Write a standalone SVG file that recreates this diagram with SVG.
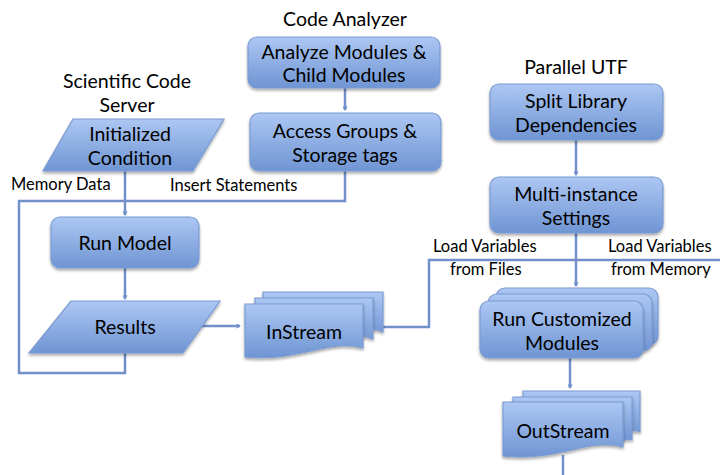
<svg xmlns="http://www.w3.org/2000/svg" width="720" height="475" viewBox="0 0 720 475">
<style>
.t{font-family:Lato,"Liberation Sans",sans-serif;font-size:19.5px;fill:#000;text-anchor:middle}
.h{font-family:Lato,"Liberation Sans",sans-serif;font-size:19.5px;fill:#000;text-anchor:middle}
.l{font-family:Lato,"Liberation Sans",sans-serif;font-size:16.5px;fill:#000}
.n{fill:url(#g);stroke:#7a9bd3;stroke-width:1.2;filter:url(#sh)}
.c{fill:none;stroke:#7290cb;stroke-width:2.5}
</style>
<defs>
<linearGradient id="g" x1="0" y1="0" x2="0" y2="1">
<stop offset="0" stop-color="#adc7f3"/>
<stop offset="1" stop-color="#6f95d3"/>
</linearGradient>
<filter id="sh" x="-10%" y="-10%" width="120%" height="130%">
<feGaussianBlur in="SourceAlpha" stdDeviation="1.5"/>
<feOffset dx="0" dy="2" result="b"/>
<feComponentTransfer><feFuncA type="linear" slope="0.35"/></feComponentTransfer>
<feMerge><feMergeNode/><feMergeNode in="SourceGraphic"/></feMerge>
</filter>
<marker id="a" viewBox="0 0 12 12" refX="10" refY="6" markerWidth="5" markerHeight="5" orient="auto" markerUnits="userSpaceOnUse">
<path d="M1,1 L10,6 L1,11" fill="none" stroke="#7290cb" stroke-width="2.5"/>
</marker>
</defs>
<rect width="720" height="475" fill="#fff"/>

<g id="titles">
<text class="h" x="345" y="26">Code Analyzer</text>
<text class="h" x="127" y="88">Scientific Code</text>
<text class="h" x="127" y="112">Server</text>
<text class="h" x="576" y="74">Parallel UTF</text>
</g>

<g id="connectors">
<line class="c" x1="345" y1="88" x2="345" y2="110" marker-end="url(#a)"/>
<path class="c" d="M345,171 V201 H125"/>
<path class="c" d="M125,171 V215" marker-end="url(#a)"/>
<path class="c" d="M125,353 V373 H19 V201 H125"/>
<line class="c" x1="125" y1="268" x2="125" y2="299" marker-end="url(#a)"/>
<line class="c" x1="200" y1="326" x2="240" y2="326" marker-end="url(#a)"/>
<path class="c" d="M383,327 H429 V260 H720"/>
<line class="c" x1="576" y1="140" x2="576" y2="175" marker-end="url(#a)"/>
<line class="c" x1="576" y1="233" x2="576" y2="286" marker-end="url(#a)"/>
<line class="c" x1="570" y1="358" x2="570" y2="388" marker-end="url(#a)"/>
<line class="c" x1="563" y1="455" x2="563" y2="475"/>
<text class="l" x="11" y="190">Memory Data</text>
<text class="l" x="170" y="191">Insert Statements</text>
<text class="l" x="433" y="252">Load Variables</text>
<text class="l" x="450" y="275">from Files</text>
<text class="l" x="608" y="252">Load Variables</text>
<text class="l" x="611" y="275">from Memory</text>
</g>

<g id="analyze">
<rect class="n" x="248" y="37" width="192" height="51" rx="9"/>
<text class="t" x="344" y="59">Analyze Modules &amp;</text>
<text class="t" x="344" y="82">Child Modules</text>
</g>

<g id="access">
<rect class="n" x="250" y="113" width="191" height="58" rx="9"/>
<text class="t" x="345" y="138">Access Groups &amp;</text>
<text class="t" x="345" y="162">Storage tags</text>
</g>

<g id="initialized">
<polygon class="n" points="73,119 224,119 193,171 43,171"/>
<text class="t" x="130" y="141">Initialized</text>
<text class="t" x="130" y="165">Condition</text>
</g>

<g id="runmodel">
<rect class="n" x="51" y="217" width="148" height="51" rx="9"/>
<text class="t" x="125" y="250">Run Model</text>
</g>

<g id="results">
<polygon class="n" points="71,301 220,301 183,353 29,353"/>
<text class="t" x="125" y="334">Results</text>
</g>

<g id="instream">
<path class="n" d="M263,292 H383 V332 C370,326 355,332 345,336 L263,336 Z"/>
<path class="n" d="M255,298 H373 V339 C360,333 345,339 335,343 L255,343 Z"/>
<path class="n" d="M245,304 H363 V348 C330,338 300,362 245,357 Z"/>
<text class="t" x="304" y="339">InStream</text>
</g>

<g id="split">
<rect class="n" x="490" y="84" width="173" height="56" rx="9"/>
<text class="t" x="576" y="108">Split Library</text>
<text class="t" x="576" y="132">Dependencies</text>
</g>

<g id="multi">
<rect class="n" x="490" y="177" width="173" height="56" rx="9"/>
<text class="t" x="576" y="201">Multi-instance</text>
<text class="t" x="576" y="225">Settings</text>
</g>

<g id="runcustom">
<rect class="n" x="496" y="288" width="162" height="57" rx="9"/>
<rect class="n" x="488" y="294" width="164" height="57" rx="9"/>
<rect class="n" x="480" y="301" width="163" height="57" rx="9"/>
<text class="t" x="562" y="326">Run Customized</text>
<text class="t" x="562" y="350">Modules</text>
</g>

<g id="outstream">
<path class="n" d="M523,391 H640 V432 C630,428 625,434 623,436 L523,436 Z"/>
<path class="n" d="M513,397 H632 V440 C628,438 625,440 623,441 L513,441 Z"/>
<path class="n" d="M503,402 H623 V447 C590,437 558,462 503,456 Z"/>
<text class="t" x="563" y="438">OutStream</text>
</g>
</svg>
